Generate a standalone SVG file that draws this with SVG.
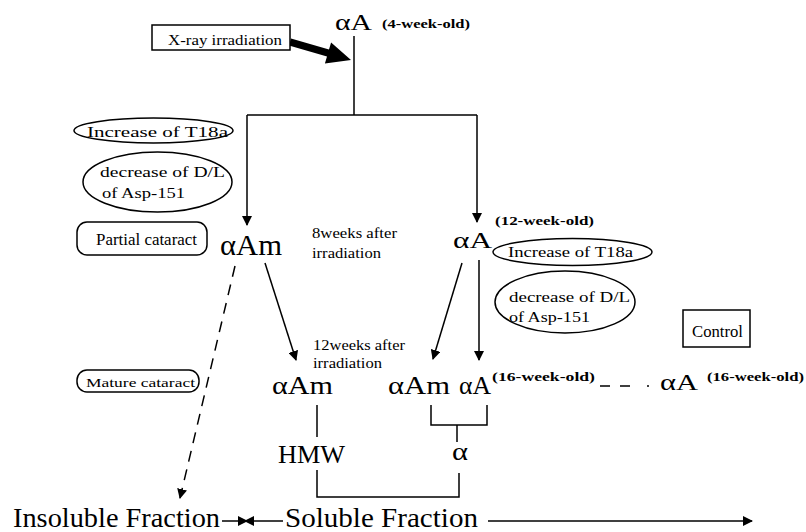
<svg xmlns="http://www.w3.org/2000/svg" width="806" height="532" viewBox="0 0 806 532">
<defs>
<style>
.ln{stroke:#000;stroke-width:1.5;fill:none}
.box{stroke:#000;stroke-width:1.5;fill:#fff}
</style>
<marker id="ah" viewBox="0 0 10 10" refX="9" refY="5" markerWidth="10" markerHeight="10" markerUnits="userSpaceOnUse" orient="auto">
<path d="M0,0 L10,5 L0,10 Z" fill="#000"/>
</marker>
</defs>
<rect width="806" height="532" fill="#fff"/>

<g id="connectors">
<line class="ln" x1="354" y1="36" x2="354" y2="115"/>
<polyline class="ln" points="247,115 477,115"/>
<line class="ln" x1="247" y1="115" x2="247" y2="225" marker-end="url(#ah)"/>
<line class="ln" x1="477" y1="115" x2="477" y2="222" marker-end="url(#ah)"/>
<path d="M291,38.6 L329,49.6 L331.1,42.5 L351,60 L324.9,63.5 L327,56.4 L289,45.4 Z" fill="#000"/>
<line class="ln" x1="235" y1="266" x2="180" y2="498" stroke-dasharray="11,8" marker-end="url(#ah)"/>
<line class="ln" x1="265" y1="263" x2="296" y2="360" marker-end="url(#ah)"/>
<line class="ln" x1="462" y1="263" x2="433" y2="359" marker-end="url(#ah)"/>
<line class="ln" x1="479" y1="260" x2="479" y2="360" marker-end="url(#ah)"/>
<line class="ln" x1="317" y1="405" x2="317" y2="437"/>
<polyline class="ln" points="317,470 317,497 459,497 459,473"/>
<polyline class="ln" points="431,405 431,425 487,425 487,405"/>
<line class="ln" x1="457" y1="425" x2="457" y2="442"/>
<path class="ln" d="M600,386 L610,386 M620,386 L630,386"/>
<circle cx="648" cy="386" r="1" fill="#000"/>
<line class="ln" x1="222" y1="521" x2="247" y2="521" marker-end="url(#ah)"/>
<line class="ln" x1="283" y1="521" x2="245" y2="521" marker-end="url(#ah)"/>
<line class="ln" x1="488" y1="521" x2="752" y2="521" marker-end="url(#ah)"/>
</g>

<g id="aA4">
<text x="335" y="30" style="font-family:'Liberation Serif',serif;font-size:23px" textLength="37" lengthAdjust="spacingAndGlyphs">αA</text>
<text x="382" y="28" style="font-family:'Liberation Serif',serif;font-size:13px;font-weight:bold" textLength="88" lengthAdjust="spacingAndGlyphs">(4-week-old)</text>
</g>
<g id="xray">
<rect class="box" x="152" y="25" width="138" height="25"/>
<text x="168" y="45" style="font-family:'Liberation Serif',serif;font-size:15px" textLength="114" lengthAdjust="spacingAndGlyphs">X-ray irradiation</text>
</g>
<g id="incT18a-left">
<ellipse class="box" cx="153.5" cy="130.5" rx="79.5" ry="12.5"/>
<text x="87" y="137" style="font-family:'Liberation Serif',serif;font-size:15px" textLength="141" lengthAdjust="spacingAndGlyphs">Increase of T18a</text>
</g>
<g id="decDL-left">
<ellipse class="box" cx="157.5" cy="182" rx="74.5" ry="30"/>
<text x="100" y="177" style="font-family:'Liberation Serif',serif;font-size:15px" textLength="125" lengthAdjust="spacingAndGlyphs">decrease of D/L</text>
<text x="102" y="198" style="font-family:'Liberation Serif',serif;font-size:15px" textLength="83" lengthAdjust="spacingAndGlyphs">of Asp-151</text>
</g>
<g id="partial">
<rect class="box" x="77" y="222" width="130" height="33" rx="10"/>
<text x="96" y="245" style="font-family:'Liberation Serif',serif;font-size:16px" textLength="101" lengthAdjust="spacingAndGlyphs">Partial cataract</text>
</g>
<g id="aAm8">
<text x="220" y="255" style="font-family:'Liberation Serif',serif;font-size:29px" textLength="62" lengthAdjust="spacingAndGlyphs">αAm</text>
<text x="312" y="238" style="font-family:'Liberation Serif',serif;font-size:15px" textLength="85" lengthAdjust="spacingAndGlyphs">8weeks after</text>
<text x="312" y="258" style="font-family:'Liberation Serif',serif;font-size:15px" textLength="69" lengthAdjust="spacingAndGlyphs">irradiation</text>
</g>
<g id="aA12">
<text x="453" y="248" style="font-family:'Liberation Serif',serif;font-size:24px" textLength="39" lengthAdjust="spacingAndGlyphs">αA</text>
<text x="495" y="225" style="font-family:'Liberation Serif',serif;font-size:13px;font-weight:bold" textLength="99" lengthAdjust="spacingAndGlyphs">(12-week-old)</text>
</g>
<g id="incT18a-right">
<ellipse class="box" cx="572.5" cy="252" rx="79.5" ry="13.5"/>
<text x="508" y="257" style="font-family:'Liberation Serif',serif;font-size:15px" textLength="125" lengthAdjust="spacingAndGlyphs">Increase of T18a</text>
</g>
<g id="decDL-right">
<ellipse class="box" cx="565" cy="302" rx="70" ry="31"/>
<text x="509" y="302" style="font-family:'Liberation Serif',serif;font-size:15px" textLength="121" lengthAdjust="spacingAndGlyphs">decrease of D/L</text>
<text x="509" y="322" style="font-family:'Liberation Serif',serif;font-size:15px" textLength="81" lengthAdjust="spacingAndGlyphs">of Asp-151</text>
</g>
<g id="control">
<rect class="box" x="683" y="310" width="67" height="37"/>
<text x="692" y="337" style="font-family:'Liberation Serif',serif;font-size:16px" textLength="51" lengthAdjust="spacingAndGlyphs">Control</text>
</g>
<g id="mature">
<rect class="box" x="77" y="370" width="122" height="22" rx="10"/>
<text x="86" y="387" style="font-family:'Liberation Serif',serif;font-size:13px" textLength="109" lengthAdjust="spacingAndGlyphs">Mature cataract</text>
</g>
<g id="aAm12">
<text x="313" y="350" style="font-family:'Liberation Serif',serif;font-size:15px" textLength="92" lengthAdjust="spacingAndGlyphs">12weeks after</text>
<text x="313" y="368" style="font-family:'Liberation Serif',serif;font-size:15px" textLength="69" lengthAdjust="spacingAndGlyphs">irradiation</text>
<text x="272" y="394" style="font-family:'Liberation Serif',serif;font-size:26px" textLength="61" lengthAdjust="spacingAndGlyphs">αAm</text>
</g>
<g id="HMW">
<text x="278" y="463" style="font-family:'Liberation Serif',serif;font-size:26px" textLength="67" lengthAdjust="spacingAndGlyphs">HMW</text>
</g>
<g id="aAm16">
<text x="388" y="394" style="font-family:'Liberation Serif',serif;font-size:26px" textLength="62" lengthAdjust="spacingAndGlyphs">αAm</text>
</g>
<g id="aA16">
<text x="459" y="394" style="font-family:'Liberation Serif',serif;font-size:25px" textLength="32" lengthAdjust="spacingAndGlyphs">αA</text>
<text x="492" y="381" style="font-family:'Liberation Serif',serif;font-size:13px;font-weight:bold" textLength="103" lengthAdjust="spacingAndGlyphs">(16-week-old)</text>
</g>
<g id="alpha">
<text x="452" y="460" style="font-family:'Liberation Serif',serif;font-size:26px" textLength="16" lengthAdjust="spacingAndGlyphs">α</text>
</g>
<g id="aA16control">
<text x="660" y="390" style="font-family:'Liberation Serif',serif;font-size:24px" textLength="38" lengthAdjust="spacingAndGlyphs">αA</text>
<text x="707" y="381" style="font-family:'Liberation Serif',serif;font-size:13px;font-weight:bold" textLength="97" lengthAdjust="spacingAndGlyphs">(16-week-old)</text>
</g>
<g id="insoluble">
<text x="13" y="527" style="font-family:'Liberation Serif',serif;font-size:28px" textLength="207" lengthAdjust="spacingAndGlyphs">Insoluble Fraction</text>
</g>
<g id="soluble">
<text x="285" y="527" style="font-family:'Liberation Serif',serif;font-size:28px" textLength="193" lengthAdjust="spacingAndGlyphs">Soluble Fraction</text>
</g>
</svg>
